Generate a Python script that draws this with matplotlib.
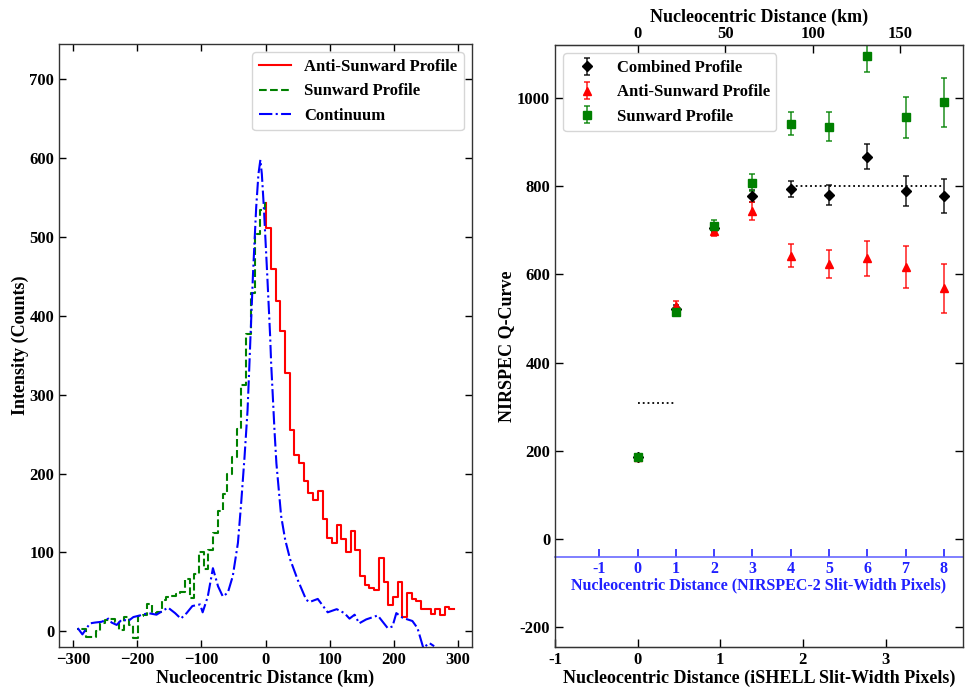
import matplotlib
matplotlib.use("Agg")
import matplotlib.pyplot as plt
import numpy as np
from matplotlib.ticker import FuncFormatter

plt.rcParams["font.family"] = ["Liberation Serif", "DejaVu Serif"]
plt.rcParams["font.weight"] = "bold"
plt.rcParams["axes.labelweight"] = "bold"
plt.rcParams["font.size"] = 12
plt.rcParams["xtick.direction"] = "in"
plt.rcParams["ytick.direction"] = "in"
plt.rcParams["axes.unicode_minus"] = False

# --- left panel: spatial profiles (counts per spatial bin) ---
BIN_KM = 7.32
FIRST_EDGE_KM = 1.1
anti_counts = [543, 511, 460, 419, 381, 327, 255, 224, 214, 190, 176, 166, 178, 142,
               118, 112, 135, 117, 101, 127, 103, 70, 59, 55, 52, 93, 63, 33, 44, 63,
               18, 49, 41, 38, 28, 28, 22, 28, 20, 31, 28]
sun_counts = [543, 534, 504, 429, 377, 312, 257, 221, 200, 174, 153, 124, 103, 79,
              100, 72, 42, 66, 50, 47, 45, 43, 39, 24, 23, 35, 21, 19, -9, 8, 18, 2,
              12, 15, 14, 10, 0, -7, -7, 3, 3]
cont_km = [-292.8, -285.5, -273.7, -265.9, -255.5, -245, -240, -232, -224, -214, -206,
           -196, -183, -170, -162, -152, -141, -132, -123, -114, -102, -98, -90, -82,
           -74, -66.5, -58.7, -51, -43, -38, -32.7, -28, -25.5, -23.5, -21.5, -19.5,
           -17, -14.5, -11, -8, -5.7, -2.6, 0, 2.6, 5.1, 7.3, 8.8, 11.4, 14, 17, 20.2,
           24.4, 30.7, 38.5, 50.3, 63.4, 68.5, 81.5, 97, 111, 123, 131, 139, 146, 157,
           175, 190.5, 198, 204, 214, 229, 237, 246, 255.5, 263]
cont_counts = [4, -4, 10, 11, 12, 16, 11, 8, 15, 13, 18, 20, 23, 21, 25, 30, 23, 16,
               23, 32, 34, 24, 44, 80, 57, 44, 49, 70, 112, 162, 221, 280, 330, 372,
               412, 453, 496, 538, 580, 598, 580, 538, 496, 454, 411, 373, 340, 298,
               255, 213, 184, 146, 116, 91, 65, 40, 37, 41, 24, 28, 23, 16, 21, 10, 15,
               20, 4, 6, 23, 17, 13, 4, -21, -15, -19]

# --- right panel: Q-curves vs NIRSPEC-2 slit-width pixels ---
KM_PER_NIRSPEC = 21.87
KM_PER_ISHELL = 47.22
nirspec_px = [0, 1, 2, 3, 4, 5, 6, 7, 8]
combined_q = [185, 522, 704, 778, 793, 780, 867, 788, 778]
combined_err = [5, 8, 10, 14, 18, 23, 28, 34, 38]
anti_q = [185, 529, 699, 744, 642, 624, 636, 617, 568]
anti_err = [5, 10, 12, 20, 26, 32, 40, 47, 55]
sun_q = [185, 515, 710, 808, 942, 935, 1096, 956, 990]
sun_err = [5, 8, 13, 20, 27, 33, 37, 47, 55]
plateau_px = [4, 8]
plateau_q = 800
core_px = [0, 1]
core_q = 308
nirspec_axis_q = -41

fig = plt.figure(figsize=(9.65, 6.88), dpi=100)
W, H = 965, 688
ax1 = fig.add_axes([59 / W, 1 - 647 / H, (472 - 59) / W, (647 - 44) / H])
ax2 = fig.add_axes([555 / W, 1 - 647 / H, (963 - 555) / W, (647 - 45) / H])

for ax in (ax1, ax2):
    for spine in ax.spines.values():
        spine.set_linewidth(1.0)
        spine.set_color("#333333")

# left panel
anti_edges = np.concatenate(([0.0], FIRST_EDGE_KM + BIN_KM * np.arange(len(anti_counts))))
sun_edges = -np.concatenate(([0.0], FIRST_EDGE_KM + BIN_KM * np.arange(len(sun_counts))))
ax1.step(anti_edges, anti_counts + [anti_counts[-1]], where="post", color="r", lw=1.5,
         label="Anti-Sunward Profile")
ax1.step(sun_edges, sun_counts + [sun_counts[-1]], where="post", color="g", lw=1.5,
         ls="--", label="Sunward Profile")
ax1.plot(cont_km, cont_counts, color="b", lw=1.5, ls="-.", label="Continuum")
ax1.set_xlim(-322, 322)
ax1.set_ylim(-20, 745)
ax1.set_xticks(range(-300, 301, 100))
ax1.set_yticks(range(0, 701, 100))
ax1.xaxis.set_major_formatter(FuncFormatter(lambda v, p: f"{v:g}".replace("-", "\u2212")))
ax1.tick_params(top=True, right=True, length=5, width=1, labelsize=12)
ax1.set_xlabel("Nucleocentric Distance (km)", fontsize=13, labelpad=1)
ax1.set_ylabel("Intensity (Counts)", fontsize=13, labelpad=0.5)
ax1.legend(loc="upper right", fontsize=12, handlelength=1.9)

# right panel
series = [
    (combined_q, combined_err, "k", "D", "Combined Profile"),
    (anti_q, anti_err, "r", "^", "Anti-Sunward Profile"),
    (sun_q, sun_err, "g", "s", "Sunward Profile"),
]
for q, err, color, marker, label in series:
    cont = ax2.errorbar(nirspec_px, q, yerr=err, fmt=marker, color=color, ms=5.5,
                        capsize=2.5, elinewidth=1.3, capthick=1.3, label=label)
    for bar in cont[2]:
        bar.set_alpha(0.75)
    for cap in cont[1]:
        cap.set_alpha(0.75)
ax2.plot(plateau_px, [plateau_q, plateau_q], color="k", ls=":", lw=1.3)
ax2.plot(core_px, [core_q, core_q], color="k", ls=":", lw=1.3)

ylo, yhi = -245, 1120
ax2.set_xlim(-KM_PER_ISHELL / KM_PER_NIRSPEC, 8.5)
ax2.set_ylim(ylo, yhi)
ax2.set_yticks(range(-200, 1001, 200))
ax2.tick_params(axis="y", left=True, right=True, length=5.5, width=1, labelsize=12)
ax2.tick_params(axis="x", which="both", bottom=False, top=False,
                labelbottom=False, labeltop=False)
ax2.set_ylabel("NIRSPEC Q-Curve", fontsize=13, labelpad=1.5)

sec_bottom = ax2.secondary_xaxis(
    "bottom",
    functions=(lambda p: p * KM_PER_NIRSPEC / KM_PER_ISHELL,
               lambda s: s * KM_PER_ISHELL / KM_PER_NIRSPEC))
sec_bottom.set_xticks([-1, 0, 1, 2, 3])
sec_bottom.tick_params(length=5.5, width=1, labelsize=12)
sec_bottom.set_xlabel("Nucleocentric Distance (iSHELL Slit-Width Pixels)", fontsize=13,
                      labelpad=1)

sec_top = ax2.secondary_xaxis(
    "top",
    functions=(lambda p: p * KM_PER_NIRSPEC, lambda k: k / KM_PER_NIRSPEC))
sec_top.set_xticks([0, 50, 100, 150])
sec_top.tick_params(length=5.5, width=1, labelsize=12, pad=2)
sec_top.set_xlabel("Nucleocentric Distance (km)", fontsize=13, labelpad=3)

nir_frac = (nirspec_axis_q - ylo) / (yhi - ylo)
sec_nir = ax2.secondary_xaxis(nir_frac, functions=(lambda p: p, lambda p: p))
sec_nir.set_xticks(range(-1, 9))
sec_nir.tick_params(length=6, width=1.2, colors="#2020ff", labelsize=11.5, pad=3)
sec_nir.spines["bottom"].set_color("#6a6aff")
sec_nir.spines["bottom"].set_linewidth(1.2)
sec_nir.set_xlabel("Nucleocentric Distance (NIRSPEC-2 Slit-Width Pixels)", fontsize=11.5,
                   color="#2020ff", labelpad=0)
for t in sec_nir.get_xticklabels():
    t.set_color("#2020ff")

ax2.legend(loc="upper left", fontsize=12)

fig.savefig("out.png", dpi=100)
